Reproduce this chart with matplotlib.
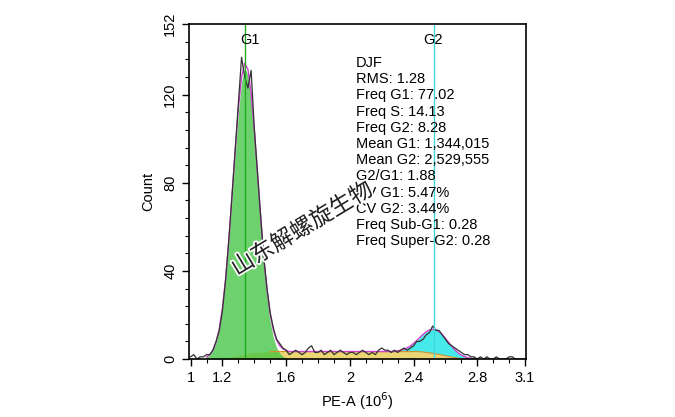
import numpy as np
import matplotlib
matplotlib.use("Agg")
import matplotlib.pyplot as plt
import matplotlib.patheffects as pe
from matplotlib.ticker import MultipleLocator

plt.rcParams['font.family'] = ['Liberation Sans', 'DejaVu Sans']

# histogram, bins 1.00 .. 3.10 (step 0.02)
hist_x = np.round(np.arange(1.00, 3.1001, 0.02), 2)
hist_counts = [
    1, 2, 0, 1, 1, 2, 2, 4, 8, 13, 22, 36, 54, 74, 95, 116,
    137, 128, 123, 131, 105, 85, 65, 46, 32, 21, 14, 9, 7, 5, 4,
    2, 3, 4, 3, 2, 3, 5, 6, 3, 3, 4, 2, 3, 4, 2, 3, 4, 3, 2,
    3, 3, 2, 3, 4, 3, 2, 3, 2, 4, 5, 4, 4, 3, 4, 3, 4, 5, 4,
    5, 6, 8, 8, 9, 11, 12, 15, 13, 13, 11, 9, 7, 6, 5, 4, 3,
    2, 2, 1, 1, 0, 1, 0, 1, 0, 0, 1, 0, 0, 0, 1, 1, 0, 0, 0, 0,
]

# model components, 1.10 .. 2.80 (step 0.02)
fit_x = np.round(np.arange(1.10, 2.8001, 0.02), 2)
g1_fit = [0.9, 1.9, 3.9, 7.6, 13.6, 23, 36, 53, 73, 93, 112, 126, 132,
          129, 118, 101, 81, 61, 42, 28, 17, 9.7, 5.2, 2.6, 1.2, 0.5] + [0] * 60
s_fit = ([0, 0, 0, 0, 0]
         + [0.2, 0.5, 0.8, 1.1, 1.4, 1.7, 2.0, 2.3, 2.5, 2.7, 2.9, 3.0, 3.1,
            3.2, 3.3, 3.3]
         + [3.4] * 45
         + [3.4, 3.3, 3.2, 3.0, 2.8, 2.6, 2.4, 2.1, 1.8, 1.5, 1.2, 0.9, 0.6,
            0.4, 0.2, 0.1]
         + [0, 0, 0, 0])
g2_fit = [0] * 60 + [0.35, 0.6, 1.0, 1.7, 2.5, 3.7, 5.0, 6.5, 8.0, 9.4, 10.4,
                     10.9, 10.9, 10.3, 9.3, 7.9, 6.4, 4.9, 3.5, 2.4, 1.6, 1.0,
                     0.6, 0.3, 0.2, 0.1]

mean_g1 = 1.344015
mean_g2 = 2.529555

stats = ["DJF", "RMS: 1.28", "Freq G1: 77.02", "Freq S: 14.13", "Freq G2: 8.28",
         "Mean G1: 1,344,015", "Mean G2: 2,529,555", "G2/G1: 1.88",
         "CV G1: 5.47%", "CV G2: 3.44%", "Freq Sub-G1: 0.28",
         "Freq Super-G2: 0.28"]

fig = plt.figure(figsize=(6.75, 4.17), dpi=100)
ax = fig.add_axes([0.28, 0.139, 0.499, 0.803])

s = np.array(s_fit)
g1 = np.array(g1_fit)
g2 = np.array(g2_fit)

ax.fill_between(fit_x, 0, s, color='#e8cf5a', alpha=0.85, lw=0)
ax.plot(fit_x[20:], s[20:], color='#d9902a', lw=0.8)
ax.fill_between(fit_x, 0, g1, color='#3cc43c', alpha=0.75, lw=0)
ax.fill_between(fit_x, s, s + g2, where=g2 > 0.05, color='#33e8e8', alpha=0.9, lw=0)
ax.plot(fit_x, g1 + s + g2, color='#d040d0', lw=1.0)
ax.plot(hist_x, hist_counts, color='#333333', lw=0.9)

ax.axvline(mean_g1, color='#22aa22', lw=1.0)
ax.axvline(mean_g2, color='#40d8d8', lw=1.0)
ax.text(mean_g1 + 0.03, 148, "G1", fontsize=10.5, ha='center', va='top')
ax.text(mean_g2 - 0.01, 148, "G2", fontsize=10.5, ha='center', va='top')

ax.text(0.495, 0.905, "\n".join(stats), transform=ax.transAxes, fontsize=10.5,
        va='top', ha='left', linespacing=1.2)

# watermark
ax.text(1.70, 59, "山东解螺旋生物", rotation=31, fontsize=16.5,
        family=['Noto Sans CJK SC', 'DejaVu Sans'], ha='center', va='center',
        color='#222222',
        path_effects=[pe.withStroke(linewidth=2.5, foreground='white')])

ax.set_xlim(0.99, 3.105)
ax.set_ylim(0, 152)
ax.set_xticks([1, 1.2, 1.6, 2, 2.4, 2.8, 3.1])
ax.set_xticklabels(["1", "1.2", "1.6", "2", "2.4", "2.8", "3.1"])
ax.xaxis.set_minor_locator(MultipleLocator(0.1))
ax.set_yticks([0, 40, 80, 120, 152])
ax.yaxis.set_minor_locator(MultipleLocator(8))
for lab in ax.get_yticklabels():
    lab.set_rotation(90)
    lab.set_va('center')
ax.tick_params(which='major', direction='out', length=5, labelsize=10.5, width=1)
ax.tick_params(which='minor', direction='out', length=3, width=0.8)
ax.set_ylabel("Count", fontsize=10.5, labelpad=6)
ax.set_xlabel("PE-A (10$^{6}$)", fontsize=10.5, labelpad=4)
for sp in ax.spines.values():
    sp.set_linewidth(1.2)

fig.savefig("out.png", dpi=100)
